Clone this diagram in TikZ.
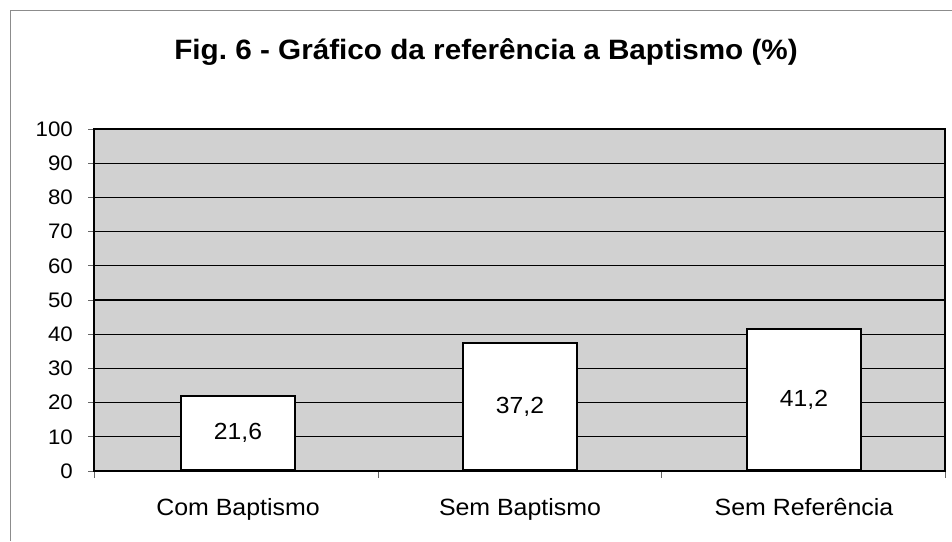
\documentclass[tikz,border=0pt]{standalone}
\usepackage{fontspec}
\setmainfont{Liberation Sans}
\newfontfamily\chartfont[FakeStretch=1.06]{Liberation Sans}
\usepackage{tikz}
\frenchspacing

\begin{document}
\begin{tikzpicture}[x=1pt, y=-1pt,
    bar/.style={draw=black, line width=2pt, fill=white, minimum width=114pt, inner sep=0pt, anchor=south, font=\chartfont\fontsize{23.3}{25}\selectfont},
    catlabel/.style={anchor=base, inner sep=0pt, font=\chartfont\fontsize{23.5}{25}\selectfont}]
    \useasboundingbox (0,0) rectangle (952,541);
    \draw[black!45, line width=0.8pt] (10,541)--(10,10)--(952,10);
    \node[anchor=base, inner sep=0pt, font=\chartfont\bfseries\fontsize{28}{32}\selectfont] (title) at (486,59) {Fig. 6 - Gráfico da referência a Baptismo (\%)};
    % plot area and grid
    \fill[black!18] (94,129) rectangle (945,471);
    \foreach \v in {0,10,...,100}{
        \draw[line width=1.2pt] (94,{471-3.42*\v})--(945,{471-3.42*\v});
        \draw[black!60, line width=0.8pt] (88,{471-3.42*\v})--(94,{471-3.42*\v});
        \node[anchor=east, inner sep=0pt, font=\chartfont\fontsize{21}{23}\selectfont] (y\v) at (73,{471-3.42*\v}) {\v};
    }
    \foreach \t in {94,378,661,945}
        \draw[black!60, line width=0.8pt] (\t,471)--(\t,478);
    % bars
    \node[bar, minimum height=21.6*3.42pt] (com) at (238,471) {21,6};
    \node[bar, minimum height=37.2*3.42pt] (sem) at (520,471) {37,2};
    \node[bar, minimum height=41.2*3.42pt] (ref) at (804,471) {41,2};
    \draw[line width=1.5pt] (94,129) rectangle (945,471);
    \node[catlabel] (lcom) at (238,515) {Com Baptismo};
    \node[catlabel] (lsem) at (520,515) {Sem Baptismo};
    \node[catlabel] (lref) at (804,515) {Sem Referência};
\end{tikzpicture}
\end{document}
